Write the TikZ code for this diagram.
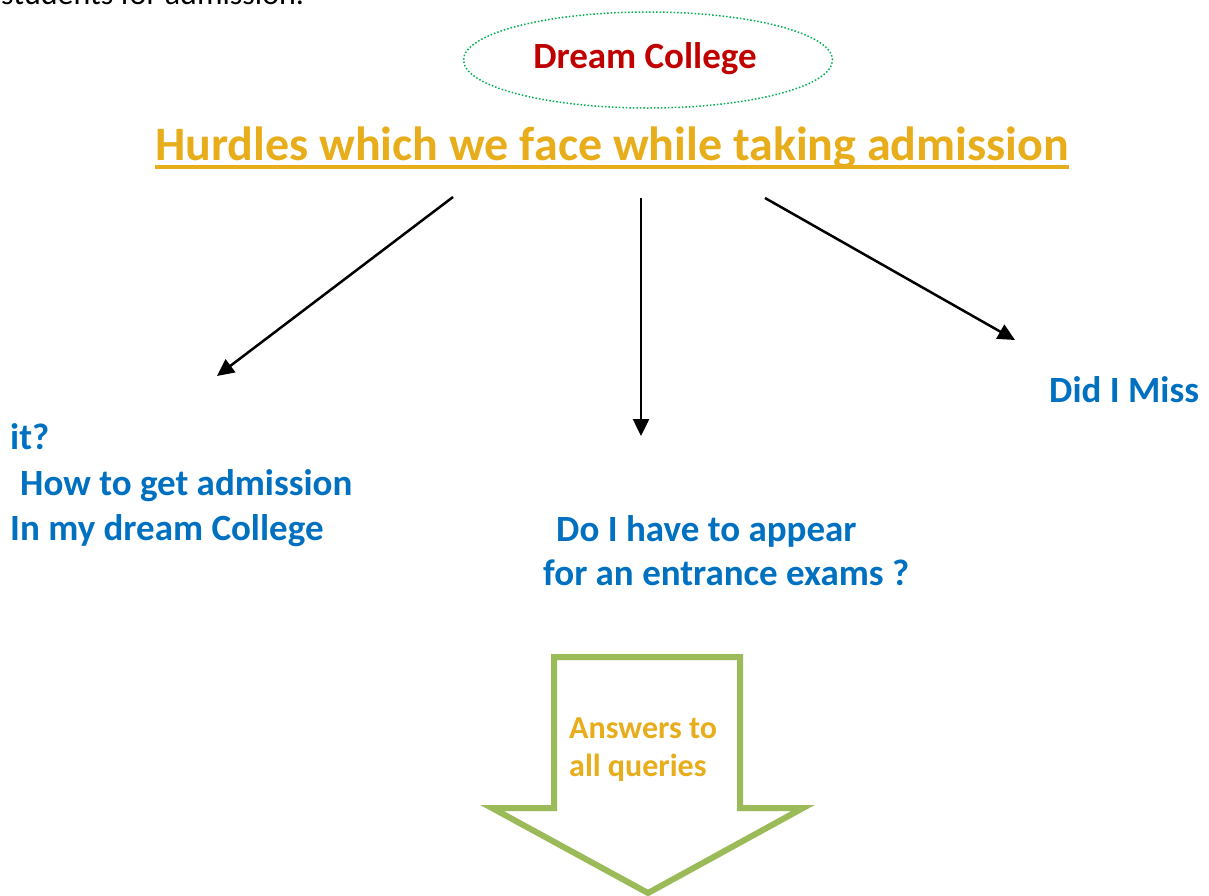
\documentclass[tikz,border=0pt]{standalone}
\usepackage{fontspec}
\setmainfont{Carlito}
\usetikzlibrary{shapes.geometric,arrows.meta}
\definecolor{darkred}{HTML}{C00000}
\definecolor{gold}{HTML}{E8AD1B}
\definecolor{qblue}{HTML}{0070C0}
\definecolor{dgreen}{HTML}{00B050}
\definecolor{agreen}{HTML}{9BBB59}
\tikzset{
  txt/.style={inner sep=0pt, anchor=base west},
  query/.style={txt, text=qblue, font=\fontsize{37}{44}\selectfont\bfseries},
  conn/.style={line width=2.5pt, -{Triangle[length=17pt,width=16pt]}},
}
\begin{document}
\begin{tikzpicture}[x=1pt,y=-1pt]
\useasboundingbox (0,0) rectangle (1209,895);
\clip (0,0) rectangle (1209,895);
\node[txt, font=\fontsize{32}{38}\selectfont] (intro) at (1,4) {students for admission.};
\node[ellipse, draw=dgreen, dotted, line width=1.5pt, minimum width=369pt, minimum height=96pt, inner sep=0pt] (dream) at (648,60) {};
\node[txt, text=darkred, font=\fontsize{37}{44}\selectfont\bfseries, anchor=base] (dreamt) at (645,68) {Dream College};
\node[txt, text=gold, font=\fontsize{48}{58}\selectfont\bfseries] (title) at (155,160) {Hurdles which we face while taking admission};
\draw[gold, line width=4.5pt] ([yshift=-7pt]title.base west) -- ([yshift=-7pt]title.base east);
\coordinate (s1) at (453,197); \coordinate (e1) at (217,376);
\coordinate (s2) at (641,198); \coordinate (e2) at (641,436);
\coordinate (s3) at (765,198); \coordinate (e3) at (1015,340);
\draw[conn] (s1) -- (e1);
\draw[conn] (s2) -- (e2);
\draw[conn] (s3) -- (e3);
\node[query] (miss) at (1049,402) {Did I Miss};
\node[query] (it) at (10,449) {it?};
\node[query] (how) at (20,495) {How to get admission};
\node[query] (inmy) at (10,540) {In my dream College};
\node[query] (doi) at (556,541) {Do I have to appear};
\node[query] (for) at (543,585) {for an entrance exams ?};
\draw[agreen, line width=6pt, line join=miter] (554,657) -- (740,657) -- (740,808) -- (803,808) -- (648,893) -- (492,808) -- (554,808) -- cycle;
\node[txt, text=gold, font=\fontsize{32}{38}\selectfont\bfseries] (ans1) at (569,738) {Answers to};
\node[txt, text=gold, font=\fontsize{32}{38}\selectfont\bfseries] (ans2) at (569,776) {all queries};
\end{tikzpicture}
\end{document}
